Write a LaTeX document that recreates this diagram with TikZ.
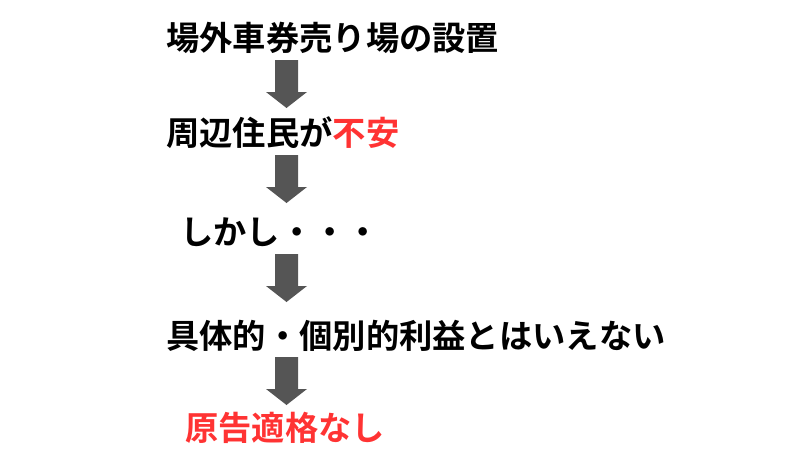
\documentclass[tikz,border=0pt]{standalone}
\usepackage{fontspec}
\setmainfont{Noto Sans CJK JP Bold}
\definecolor{arrgray}{HTML}{555555}
\definecolor{txtred}{HTML}{FF3333}
\tikzset{
  lbl/.style={anchor=base west, inner sep=0pt, font=\fontsize{33.3}{33.3}\selectfont},
  redtxt/.style={text=txtred},
  blockarrow/.pic={
    \fill[arrgray] (-11.5,0) -- (11.5,0) -- (11.5,32) -- (20.5,32) -- (0,48) -- (-20.5,32) -- (-11.5,32) -- cycle;
  }
}
\begin{document}
\begin{tikzpicture}[x=1pt,y=-1pt]
\useasboundingbox (0,0) rectangle (800,450);
\node[lbl] (l1) at (166,50) {場外車券売り場の設置};
\node[lbl] (l2) at (166,145) {周辺住民が{\color{txtred}不安}};
\node[lbl] (l3) at (180,244) {しかし・・・};
\node[lbl] (l4) at (166,348) {具体的・個別的利益とはいえない};
\node[lbl,redtxt] (l5) at (185,440) {原告適格なし};
\pic at (286.5,60) {blockarrow};
\pic at (286.5,155) {blockarrow};
\pic at (286.5,254) {blockarrow};
\pic at (286.5,357) {blockarrow};
\end{tikzpicture}
\end{document}
